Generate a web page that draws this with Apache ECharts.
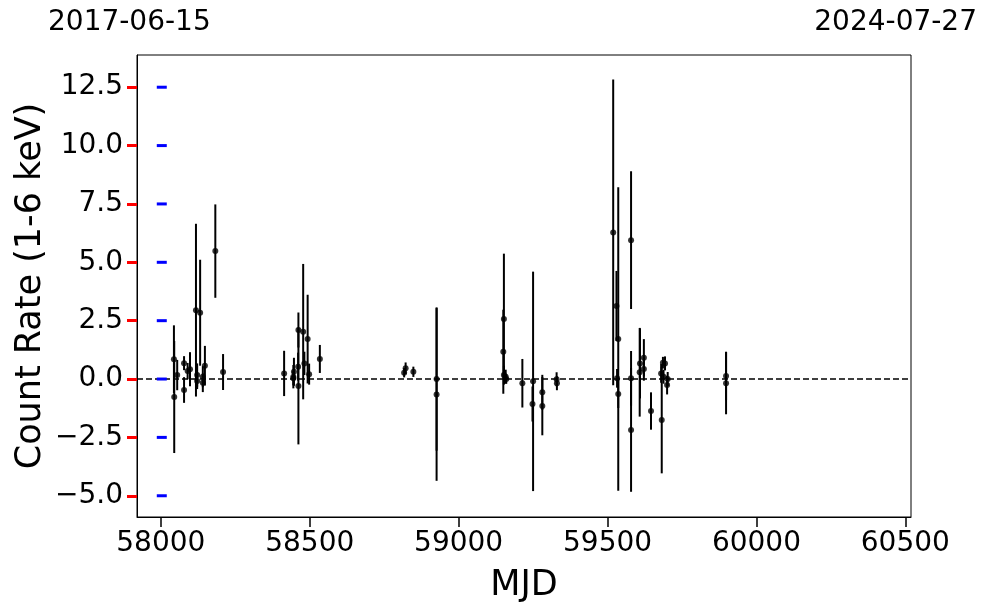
<!DOCTYPE html>
<html>
<head>
<meta charset="utf-8">
<script src="https://cdn.jsdelivr.net/npm/echarts@6/dist/echarts.min.js"></script>
<style>html,body{margin:0;padding:0;background:#fff}#c{width:989px;height:613px}</style>
</head>
<body>
<div id="c"></div>
<script>
const mjd  = [58044,58045,58055,58078,58078,58090,58098,58118,58132,58122,58122,58141,58141,58148,58183,58209,
              58414,58445,58445,58447,58462,58462,58461,58478,58482,58493,58498,58534,
              58817,58822,58848,58926,58926,
              59152,59150,59152,59158,59160,59214,59250,59248,59281,59281,59329,59330,
              59519,59536,59530,59532,59536,59579,59579,59579,59609,59622,59608,59622,59646,59682,59680,59693,59686,59688,59700,59702,59898,59898];
const rate = [0.85,-0.77,0.17,0.68,-0.47,0.34,0.42,2.95,2.84,0.17,-0.08,0.10,-0.16,0.57,5.48,0.30,
              0.24,0.10,0.03,0.31,2.10,-0.30,0.53,2.03,0.67,1.71,0.21,0.86,
              0.27,0.46,0.31,0.00,-0.66,
              2.57,1.17,0.17,0.10,0.00,-0.18,-0.10,-1.07,-0.57,-1.16,-0.01,-0.18,
              6.28,1.71,3.13,0.03,-0.64,5.95,0.03,-2.18,0.67,0.91,0.29,0.43,-1.37,-1.76,0.24,0.67,0.70,0.10,-0.26,0.00,0.13,-0.18];
const err  = [1.45,2.40,0.65,0.30,0.55,0.35,0.73,3.70,2.27,0.50,0.35,0.45,0.40,0.85,2.00,0.77,
              0.97,0.50,0.30,0.60,0.75,2.50,0.60,2.90,0.50,1.90,0.45,0.60,
              0.20,0.25,0.22,3.07,3.70,
              2.80,1.80,0.40,0.30,0.20,1.04,4.70,0.75,0.75,1.25,0.30,0.30,
              6.55,6.50,1.50,0.40,0.60,2.95,1.17,2.65,1.50,0.80,1.90,0.50,0.80,2.28,0.40,0.30,0.25,0.30,0.40,0.30,1.04,1.33];
const xTicks = [58000,58500,59000,59500,60000,60500];
const yTicks = [-5,-2.5,0,2.5,5,7.5,10,12.5];
const startDate = '2017-06-15';
const endDate = '2024-07-27';
const xTitle = 'MJD';
const yTitle = 'Count Rate (1-6 keV)';

const data = mjd.map((m,i)=>[m, rate[i], err[i]]);
const FONT = 'DejaVu Sans';
const XMIN = 57920, XMAX = 60519, YMIN = -5.91, YMAX = 13.88;

const chart = echarts.init(document.getElementById('c'), null, {renderer:'canvas'});
chart.setOption({
  animation:false,
  backgroundColor:'#fff',
  textStyle:{fontFamily:FONT},
  grid:{left:137, top:55, width:774, height:462, show:true, borderColor:'#000', borderWidth:1},
  graphic:[
    {type:'text', left:48, top:9, style:{text:startDate, font:'28px "DejaVu Sans"', fill:'#000'}},
    {type:'text', right:12, top:9, style:{text:endDate, font:'28px "DejaVu Sans"', fill:'#000'}},
    {type:'text', x:31, y:286, rotation:Math.PI/2,
      style:{text:yTitle, font:'35px "DejaVu Sans"', fill:'#000', align:'center', verticalAlign:'middle'}}
  ],
  xAxis:{
    type:'value', min:XMIN, max:XMAX,
    name:xTitle, nameLocation:'middle', nameGap:51,
    nameTextStyle:{fontSize:35, color:'#000', fontFamily:FONT},
    axisLine:{show:true, onZero:false, lineStyle:{color:'#000', width:1}},
    axisTick:{show:true, length:10, lineStyle:{color:'#000', width:1.5}, customValues:xTicks},
    axisLabel:{show:true, fontSize:28, color:'#000', margin:13, fontFamily:FONT, customValues:xTicks, formatter:v=>String(v)},
    splitLine:{show:false}
  },
  yAxis:{
    type:'value', min:YMIN, max:YMAX,
    axisLine:{show:true, onZero:false, lineStyle:{color:'#000', width:1}},
    axisTick:{show:true, length:10, lineStyle:{color:'#f00', width:3}, customValues:yTicks},
    axisLabel:{show:true, fontSize:28, color:'#000', margin:14, fontFamily:FONT, customValues:yTicks,
      formatter:v=>{const s=Math.abs(v).toFixed(1); return v<0?'\u2212'+s:s;}},
    splitLine:{show:false}
  },
  series:[
    {
      type:'custom', data:data, encode:{x:0,y:1}, z:2,
      renderItem:(params, api)=>{
        const x=api.value(0), y=api.value(1), e=api.value(2);
        const p1=api.coord([x,y-e]), p2=api.coord([x,y+e]);
        return {type:'line', shape:{x1:p1[0],y1:p1[1],x2:p2[0],y2:p2[1]}, style:{stroke:'#000', lineWidth:2}};
      }
    },
    {
      type:'custom', data:yTicks.map(v=>[XMIN+100, v]), encode:{x:0,y:1}, z:5, silent:true,
      renderItem:(params, api)=>{
        const p=api.coord([api.value(0), api.value(1)]);
        return {type:'line', shape:{x1:p[0]-10,y1:p[1],x2:p[0],y2:p[1]}, style:{stroke:'#00f', lineWidth:3}};
      }
    },
    {
      type:'scatter', data:data.map(d=>[d[0],d[1]]), symbol:'circle', symbolSize:6, z:3,
      itemStyle:{color:'#000'},
      markLine:{silent:true, symbol:['none','none'], label:{show:false},
        lineStyle:{color:'#000', type:[6,3], width:1.5}, data:[{yAxis:0}]}
    }
  ]
});
</script>
</body>
</html>
